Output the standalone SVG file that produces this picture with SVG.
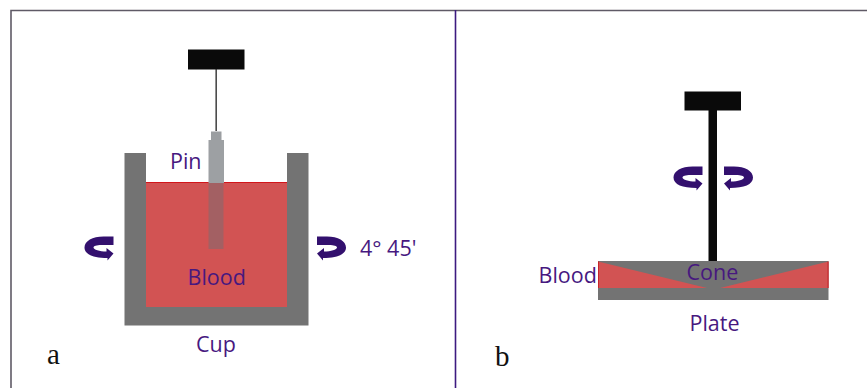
<svg xmlns="http://www.w3.org/2000/svg" width="867" height="388" viewBox="0 0 867 388">
<style>
.g{fill:#737373}
.k{fill:#0a0a0a}
.r{fill:#d25353}
.t{font-family:"Open Sans",sans-serif;font-size:21.5px;fill:#47187f}
.s{font-family:"Liberation Serif",serif;font-size:29px;fill:#111}
.f{fill:none;stroke:#5f5a66;stroke-width:1.6}
.a{fill:#33106e}
</style>
<defs>
<path id="turn" d="M0,-3 H-12 C-17,-3 -20,-2 -20,-0.500 C-20,1.500 -14,3.500 -7,3.500 V0 L0,5.500 L-6,12.500 V10 C-20,10 -29,6.500 -29,-0.500 C-29,-7 -21,-11.500 -10,-11.500 H0 Z"/>
</defs>
<rect width="867" height="388" fill="#fff"/>
<g id="frame">
<path class="f" d="M11,388 V10.500 H867"/>
<path d="M455.500,10 V388" fill="none" stroke="#3d1a80" stroke-width="1.6"/>
</g>
<g id="cup">
<rect class="r" x="146" y="182" width="141" height="125"/>
<path d="M146,182.500 H287" stroke="#d2151b" stroke-width="1.200" fill="none"/>
<path class="g" d="M124.500,153 H146 V307 H287 V153 H308.500 V325.500 H124.500 Z"/>
</g>
<g id="pin">
<rect class="k" x="188" y="49.500" width="56.500" height="20"/>
<rect x="215.500" y="69" width="1.300" height="62" fill="#222"/>
<rect x="211" y="131.500" width="10.500" height="9" fill="#9b9ea1"/>
<rect x="208.500" y="140" width="15.500" height="43" fill="#9da0a3"/>
<rect x="208.500" y="183" width="15" height="66" fill="#a36063"/>
</g>
<g id="cone">
<rect class="k" x="684.500" y="91.500" width="56.500" height="19"/>
<rect class="k" x="708.500" y="110" width="8.500" height="151"/>
<rect class="g" x="598" y="261" width="230.500" height="39"/>
<path class="r" d="M598,261.500 L707,288 H598 Z M828.500,261.500 V288 H720 Z"/>
<path d="M598.500,261.500 V288 M828,261.500 V288" stroke="#c8242a" stroke-width="1" fill="none"/>
</g>
<g id="connectors">
<use class="a" href="#turn" transform="translate(113.500,248)"/>
<use class="a" href="#turn" transform="matrix(-1 0 0 1 317 248)"/>
<use class="a" href="#turn" transform="translate(702.500,178)"/>
<use class="a" href="#turn" transform="matrix(-1 0 0 1 724 178)"/>
</g>
<g id="labels">
<text class="t" x="170" y="169">Pin</text>
<text class="t" x="187.500" y="285">Blood</text>
<text class="t" x="196" y="352">Cup</text>
<text class="t" x="360" y="256">4° 45'</text>
<text class="t" x="538.500" y="283">Blood</text>
<text class="t" x="686.500" y="280">Cone</text>
<text class="t" x="689.500" y="331">Plate</text>
<text class="s" x="47" y="364">a</text>
<text class="s" x="495" y="366">b</text>
</g>
</svg>
